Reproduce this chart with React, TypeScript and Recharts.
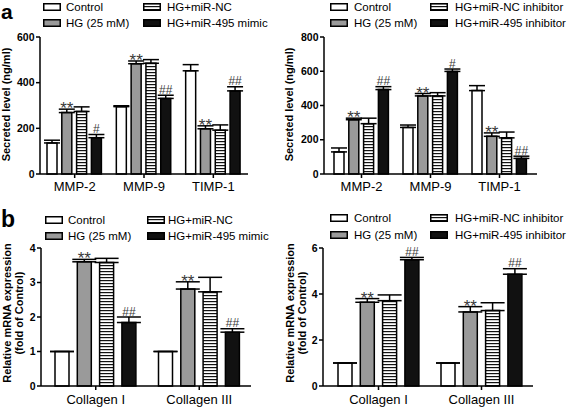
import { BarChart, Bar, XAxis, YAxis, ErrorBar, LabelList } from "recharts";

const FONT = '"Liberation Sans", Arial, sans-serif';

const secretedCats = ["MMP-2", "MMP-9", "TIMP-1"];
const collagenCats = ["Collagen I", "Collagen III"];

const mimicNames = ["Control", "HG (25 mM)", "HG+miR-NC", "HG+miR-495 mimic"];
const inhibitorNames = ["Control", "HG (25 mM)", "HG+miR-NC inhibitor", "HG+miR-495 inhibitor"];

// a, mimic: secreted level (ng/ml)
const aMimicControl = [136, 295, 452];
const aMimicControlErr = [12, 4, 27];
const aMimicHG = [269, 483, 198];
const aMimicHGErr = [15, 12, 13];
const aMimicNC = [274, 485, 192];
const aMimicNCErr = [20, 16, 23];
const aMimicMiR = [159, 331, 364];
const aMimicMiRErr = [14, 14, 18];
const aMimicMarks = ["#", "##", "##"];

// a, inhibitor
const aInhControl = [129, 272, 487];
const aInhControlErr = [23, 14, 29];
const aInhHG = [317, 456, 220];
const aInhHGErr = [9, 14, 20];
const aInhNC = [294, 456, 211];
const aInhNCErr = [32, 19, 34];
const aInhMiR = [493, 599, 91];
const aInhMiRErr = [17, 14, 13];
const aInhMarks = ["##", "#", "##"];

// b, mimic: relative mRNA expression
const bMimicControl = [1, 1];
const bMimicControlErr = [0, 0];
const bMimicHG = [3.6, 2.81];
const bMimicHGErr = [0.07, 0.21];
const bMimicNC = [3.58, 2.73];
const bMimicNCErr = [0.12, 0.42];
const bMimicMiR = [1.84, 1.56];
const bMimicMiRErr = [0.16, 0.1];
const bMimicMarks = ["##", "##"];

// b, inhibitor
const bInhControl = [1, 1];
const bInhControlErr = [0, 0];
const bInhHG = [3.64, 3.22];
const bInhHGErr = [0.16, 0.23];
const bInhNC = [3.71, 3.28];
const bInhNCErr = [0.25, 0.34];
const bInhMiR = [5.49, 4.86];
const bInhMiRErr = [0.1, 0.24];
const bInhMarks = ["##", "##"];

const FILLS = ["#ffffff", "#9a9a9a", "url(#hstripes)", "#111111"];

type Series = { vals: number[]; errs: number[]; marks: string[] };

type PanelProps = {
  left: number;
  top: number;
  width: number;
  height: number;
  margin: { top: number; right: number; bottom: number; left: number };
  yWidth: number;
  xHeight: number;
  padLeft: number;
  padRight: number;
  cats: string[];
  series: Series[];
  names: string[];
  domain: [number, number];
  ticks: number[];
  barSize: number;
  barGap: number;
  cap: number;
  xTickMargin: number;
  yLabel: string[];
  yLabelX: number[];
  yLabelShift: number;
  legendX: number[];
  legendTextX: number[];
  legendY: number[];
  letter: { text: string; x: number; y: number; size: number } | null;
};

function markRenderer(vals: number[], errs: number[]) {
  return (props: any) => {
    const value = props.value;
    if (!value) return null;
    const vb = props.viewBox ?? {};
    const x = vb.x ?? props.x;
    const y = vb.y ?? props.y;
    const w = vb.width ?? props.width;
    const h = vb.height ?? props.height;
    const i = props.index ?? 0;
    const perUnit = h / vals[i];
    const capY = y - errs[i] * perUnit;
    const star = String(value).startsWith("*");
    return (
      <text
        x={x + w / 2}
        y={star ? capY + 5 : capY - 1.5}
        textAnchor="middle"
        fontFamily={FONT}
        fontSize={star ? 17 : 12}
        fill="#3a3a3a"
      >
        {value}
      </text>
    );
  };
}

function Panel(p: PanelProps) {
  const rows = p.cats.map((c, i) => {
    const row: any = { cat: c };
    p.series.forEach((s, k) => {
      row[`s${k}`] = s.vals[i];
      row[`e${k}`] = [0, s.errs[i]];
      row[`m${k}`] = s.marks[i];
    });
    return row;
  });

  const yLabelContent = (props: any) => {
    const vb = props.viewBox ?? {};
    const cy = vb.y + vb.height / 2 + p.yLabelShift;
    return (
      <g>
        {p.yLabel.map((t, k) => (
          <text
            key={k}
            x={p.yLabelX[k]}
            y={cy}
            transform={`rotate(-90 ${p.yLabelX[k]} ${cy})`}
            textAnchor="middle"
            dominantBaseline="central"
            fontFamily={FONT}
            fontWeight="bold"
            fontSize={11}
            fill="#000"
          >
            {t}
          </text>
        ))}
      </g>
    );
  };

  return (
    <div
      style={{
        position: "absolute",
        left: p.left,
        top: p.top,
        width: p.width,
        height: p.height,
      }}
    >
      <div style={{ position: "absolute", left: 0, top: 0 }}>
        <BarChart
          width={p.width}
          height={p.height}
          data={rows}
          margin={p.margin}
          barSize={p.barSize}
          barGap={p.barGap}
        >
          <XAxis
            dataKey="cat"
            interval={0}
            height={p.xHeight}
            padding={{ left: p.padLeft, right: p.padRight }}
            tick={{ fontSize: 13, fill: "#000", fontFamily: FONT }}
            tickSize={4}
            tickMargin={p.xTickMargin}
            tickLine={{ stroke: "#000", strokeWidth: 1.5 }}
            axisLine={{ stroke: "#000", strokeWidth: 1.5 }}
          />
          <YAxis
            domain={p.domain}
            ticks={p.ticks}
            width={p.yWidth}
            tick={{ fontSize: 10.5, fill: "#000", fontWeight: "bold", fontFamily: FONT }}
            tickSize={4}
            tickMargin={1.5}
            tickLine={{ stroke: "#000", strokeWidth: 1.5 }}
            axisLine={{ stroke: "#000", strokeWidth: 1.5 }}
            label={yLabelContent}
          />
          {p.series.map((s, k) => (
            <Bar
              key={k}
              dataKey={`s${k}`}
              name={p.names[k]}
              fill={FILLS[k]}
              stroke="#000"
              strokeWidth={1.5}
              isAnimationActive={false}
            >
              <ErrorBar
                dataKey={`e${k}`}
                direction="y"
                width={p.cap}
                stroke="#000"
                strokeWidth={1.5}
              />
              <LabelList dataKey={`m${k}`} content={markRenderer(s.vals, s.errs)} />
            </Bar>
          ))}
        </BarChart>
      </div>
      {p.names.map((n, i) => {
        const col = i < 2 ? 0 : 1;
        const row = i % 2;
        const yc = p.legendY[row];
        return (
          <div key={n}>
            <svg
              width={18}
              height={8}
              style={{ position: "absolute", left: p.legendX[col], top: yc - 4 }}
            >
              <rect x={0.75} y={0.75} width={16.5} height={6.5} fill={FILLS[i]} stroke="#000" strokeWidth={1.5} />
            </svg>
            <span
              style={{
                position: "absolute",
                left: p.legendTextX[col],
                top: yc - 7,
                fontFamily: FONT,
                fontSize: 11.5,
                lineHeight: "14px",
                whiteSpace: "nowrap",
                color: "#000",
              }}
            >
              {n}
            </span>
          </div>
        );
      })}
      {p.letter && (
        <span
          style={{
            position: "absolute",
            left: p.letter.x,
            top: p.letter.y,
            fontFamily: FONT,
            fontWeight: "bold",
            fontSize: p.letter.size,
            lineHeight: 1,
            color: "#000",
          }}
        >
          {p.letter.text}
        </span>
      )}
    </div>
  );
}

export default function App() {
  return (
    <div
      style={{
        position: "absolute",
        left: 0,
        top: 0,
        width: 567,
        height: 410,
        background: "#fff",
        overflow: "hidden",
      }}
    >
      <svg width={0} height={0} style={{ position: "absolute" }}>
        <defs>
          <pattern id="hstripes" patternUnits="userSpaceOnUse" width={4} height={3}>
            <rect x={0} y={0} width={4} height={3} fill="#fff" />
            <rect x={0} y={0} width={4} height={1.2} fill="#111" />
          </pattern>
        </defs>
      </svg>

      <Panel
        left={0}
        top={0}
        width={283}
        height={205}
        margin={{ top: 37, right: 35, bottom: 1, left: 0 }}
        yWidth={40}
        xHeight={30}
        padLeft={0}
        padRight={0}
        cats={secretedCats}
        series={[
          { vals: aMimicControl, errs: aMimicControlErr, marks: ["", "", ""] },
          { vals: aMimicHG, errs: aMimicHGErr, marks: ["**", "**", "**"] },
          { vals: aMimicNC, errs: aMimicNCErr, marks: ["", "", ""] },
          { vals: aMimicMiR, errs: aMimicMiRErr, marks: aMimicMarks },
        ]}
        names={mimicNames}
        domain={[0, 600]}
        ticks={[0, 200, 400, 600]}
        barSize={10}
        barGap={4.8}
        cap={8}
        xTickMargin={4}
        yLabel={["Secreted level (ng/ml)"]}
        yLabelX={[6]}
        yLabelShift={-1}
        legendX={[43, 143]}
        legendTextX={[66, 167]}
        legendY={[7, 23]}
        letter={{ text: "a", x: 1, y: 1, size: 21 }}
      />

      <Panel
        left={283}
        top={0}
        width={284}
        height={205}
        margin={{ top: 37, right: 30, bottom: 1, left: 0 }}
        yWidth={41}
        xHeight={30}
        padLeft={3}
        padRight={3}
        cats={secretedCats}
        series={[
          { vals: aInhControl, errs: aInhControlErr, marks: ["", "", ""] },
          { vals: aInhHG, errs: aInhHGErr, marks: ["**", "**", "**"] },
          { vals: aInhNC, errs: aInhNCErr, marks: ["", "", ""] },
          { vals: aInhMiR, errs: aInhMiRErr, marks: aInhMarks },
        ]}
        names={inhibitorNames}
        domain={[0, 800]}
        ticks={[0, 200, 400, 600, 800]}
        barSize={10}
        barGap={4.8}
        cap={8}
        xTickMargin={4}
        yLabel={["Secreted level (ng/ml)"]}
        yLabelX={[6]}
        yLabelShift={-1}
        legendX={[47, 147]}
        legendTextX={[71, 172]}
        legendY={[7, 23]}
        letter={null}
      />

      <Panel
        left={0}
        top={205}
        width={283}
        height={205}
        margin={{ top: 43, right: 32, bottom: 0, left: 0 }}
        yWidth={41}
        xHeight={24}
        padLeft={3}
        padRight={0}
        cats={collagenCats}
        series={[
          { vals: bMimicControl, errs: bMimicControlErr, marks: ["", ""] },
          { vals: bMimicHG, errs: bMimicHGErr, marks: ["**", "**"] },
          { vals: bMimicNC, errs: bMimicNCErr, marks: ["", ""] },
          { vals: bMimicMiR, errs: bMimicMiRErr, marks: bMimicMarks },
        ]}
        names={mimicNames}
        domain={[0, 4]}
        ticks={[0, 1, 2, 3, 4]}
        barSize={14}
        barGap={8.3}
        cap={12}
        xTickMargin={5}
        yLabel={["Relative mRNA expression", "(fold of Control)"]}
        yLabelX={[7, 19]}
        yLabelShift={-4}
        legendX={[45, 147]}
        legendTextX={[68, 168]}
        legendY={[15, 31]}
        letter={{ text: "b", x: 1, y: 3, size: 23 }}
      />

      <Panel
        left={283}
        top={205}
        width={284}
        height={205}
        margin={{ top: 43, right: 34, bottom: 0, left: 0 }}
        yWidth={40}
        xHeight={24}
        padLeft={4}
        padRight={0}
        cats={collagenCats}
        series={[
          { vals: bInhControl, errs: bInhControlErr, marks: ["", ""] },
          { vals: bInhHG, errs: bInhHGErr, marks: ["**", "**"] },
          { vals: bInhNC, errs: bInhNCErr, marks: ["", ""] },
          { vals: bInhMiR, errs: bInhMiRErr, marks: bInhMarks },
        ]}
        names={inhibitorNames}
        domain={[0, 6]}
        ticks={[0, 2, 4, 6]}
        barSize={14}
        barGap={8.3}
        cap={12}
        xTickMargin={5}
        yLabel={["Relative mRNA expression", "(fold of Control)"]}
        yLabelX={[7, 19]}
        yLabelShift={-4}
        legendX={[47, 147]}
        legendTextX={[71, 172]}
        legendY={[13, 30]}
        letter={null}
      />
    </div>
  );
}
